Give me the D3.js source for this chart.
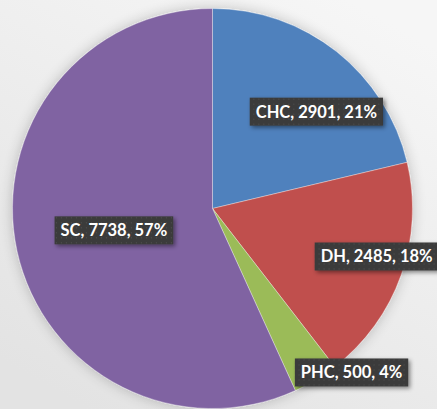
<!DOCTYPE html>
<html>
<head>
<meta charset="utf-8">
<script src="https://cdn.jsdelivr.net/npm/d3@7"></script>
<style>
  body { margin: 0; }
  svg { display: block; }
</style>
</head>
<body>
<script>
//chart data
var categories = ["CHC", "DH", "PHC", "SC"];
var counts = [2901, 2485, 500, 7738];
var percentLabels = ["21%", "18%", "4%", "57%"];
var sliceColors = ["#4f81bd", "#c0504d", "#9bbb59", "#8064a2"];

//where each data label sits: [distance from centre as share of radius, angle in degrees from 12 o'clock]
var labelSpots = [[0.71, 47], [0.855, 106.3], [1.075, 139.7], [0.505, 257.5]];

window.onload = setChart;

function setChart(){

    var width = 437,
        height = 409;

    var cx = 212.5,
        cy = 208.5,
        radius = 200;

    var svg = d3.select("body")
        .append("svg")
        .attr("width", width)
        .attr("height", height);

    var defs = svg.append("defs");

    //soft grey page background
    var bg = defs.append("linearGradient")
        .attr("id", "bg")
        .attr("x1", 0.8).attr("y1", 0)
        .attr("x2", 0.2).attr("y2", 1);
    bg.append("stop").attr("offset", "0%").attr("stop-color", "#f6f6f6");
    bg.append("stop").attr("offset", "100%").attr("stop-color", "#e3e3e3");

    //halo round the pie
    var halo = defs.append("filter")
        .attr("id", "halo")
        .attr("x", "-20%").attr("y", "-20%")
        .attr("width", "140%").attr("height", "140%");
    halo.append("feGaussianBlur")
        .attr("in", "SourceAlpha")
        .attr("stdDeviation", 7)
        .attr("result", "blur");
    halo.append("feComponentTransfer")
        .attr("in", "blur")
        .attr("result", "shade")
        .append("feFuncA").attr("type", "linear").attr("slope", 0.22);
    var merge = halo.append("feMerge");
    merge.append("feMergeNode").attr("in", "shade");
    merge.append("feMergeNode").attr("in", "SourceGraphic");

    //shadow under the label boxes
    var boxShadow = defs.append("filter")
        .attr("id", "boxShadow")
        .attr("x", "-20%").attr("y", "-40%")
        .attr("width", "140%").attr("height", "180%");
    boxShadow.append("feDropShadow")
        .attr("dx", 2).attr("dy", 2)
        .attr("stdDeviation", 2)
        .attr("flood-color", "#000")
        .attr("flood-opacity", 0.45);

    //dotted texture on label boxes
    var dots = defs.append("pattern")
        .attr("id", "dots")
        .attr("width", 5).attr("height", 5)
        .attr("patternUnits", "userSpaceOnUse");
    dots.append("rect").attr("width", 5).attr("height", 5).attr("fill", "#3a3a3a");
    dots.append("rect").attr("x", 2).attr("y", 2).attr("width", 1).attr("height", 1).attr("fill", "#555");

    svg.append("rect")
        .attr("width", width)
        .attr("height", height)
        .attr("fill", "url(#bg)");

    var data = categories.map(function(c, i){
        return { name: c, value: counts[i], pct: percentLabels[i], color: sliceColors[i], spot: labelSpots[i] };
    });

    var pie = d3.pie()
        .sort(null)
        .value(function(d){ return d.value; });

    var arc = d3.arc()
        .innerRadius(0)
        .outerRadius(radius);

    var g = svg.append("g")
        .attr("transform", "translate(" + cx + "," + cy + ")");

    g.append("g")
        .attr("filter", "url(#halo)")
        .selectAll("path")
        .data(pie(data))
        .enter()
        .append("path")
        .attr("d", arc)
        .attr("fill", function(d){ return d.data.color; })
        .attr("stroke", "rgba(255,255,255,0.35)")
        .attr("stroke-width", 1);

    //data labels
    var labels = g.selectAll(".label")
        .data(data)
        .enter()
        .append("g")
        .attr("class", "label")
        .attr("transform", function(d){
            var a = d.spot[1] * Math.PI / 180,
                r = d.spot[0] * radius;
            return "translate(" + (r * Math.sin(a)) + "," + (-r * Math.cos(a)) + ")";
        });

    var texts = labels.append("text")
        .attr("text-anchor", "middle")
        .attr("dy", "0.36em")
        .attr("fill", "#ffffff")
        .style("font-family", "Lato, 'Open Sans', sans-serif")
        .style("font-weight", "bold")
        .style("font-size", "16.5px")
        .text(function(d){ return d.name + ", " + d.value + ", " + d.pct; });

    texts.each(function(){
        var w = this.getComputedTextLength() + 12,
            h = 28;
        d3.select(this.parentNode)
            .insert("rect", "text")
            .attr("x", -w / 2)
            .attr("y", -h / 2)
            .attr("width", w)
            .attr("height", h)
            .attr("fill", "url(#dots)")
            .attr("filter", "url(#boxShadow)");
    });
};
</script>
</body>
</html>
